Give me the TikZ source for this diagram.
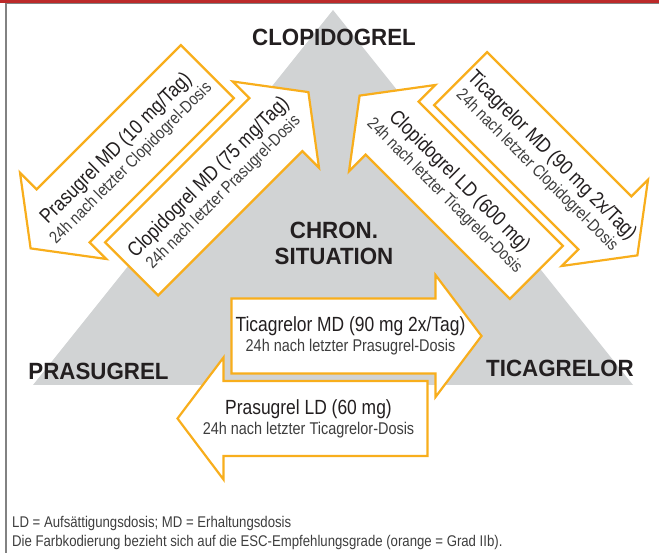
\documentclass[tikz,border=0pt]{standalone}
\usepackage{fontspec}
\setmainfont{Liberation Sans}[FakeStretch=0.85]
\newfontfamily\labelfont{Liberation Sans}[FakeStretch=0.95]
\usepackage{xcolor}

\definecolor{triangray}{RGB}{209,211,212}
\definecolor{escorange}{RGB}{248,174,28}
\definecolor{bandred}{RGB}{188,42,42}
\definecolor{framegray}{RGB}{130,130,130}
\definecolor{inkdark}{RGB}{35,31,32}
\definecolor{inkgray}{RGB}{62,62,62}

\newcommand{\dosesub}{\fontsize{17}{20}\selectfont\color{inkgray}}

\tikzset{
  dosearrow/.style={draw=escorange, fill=white, line width=2.2pt, line join=miter},
  dosetext/.style={align=center, inner sep=0pt, text=inkdark, font=\fontsize{20.5}{20}\selectfont},
  druglabel/.style={inner sep=0pt, text=inkdark, font=\labelfont\bfseries\fontsize{23.5}{26}\selectfont},
  footnote/.style={anchor=base west, inner sep=0pt, text=inkgray, font=\fontsize{15.5}{17.5}\selectfont}
}

\begin{document}
\begin{tikzpicture}[x=1pt, y=-1pt]
  \useasboundingbox (0,0) rectangle (659,553);
  % frame
  \fill[bandred] (0,0) rectangle (659,3);
  \draw[framegray, line width=1.2pt] (6,553) -- (6,3.6) -- (659,3.6);
  % triangle
  \fill[triangray] (333,10) -- (633,385) -- (33,385) -- cycle;

  \node[druglabel, anchor=base] (clopi) at (334,46) {CLOPIDOGREL};
  \node[druglabel, anchor=base] (prasu) at (98.5,380) {PRASUGREL};
  \node[druglabel, anchor=base] (tica) at (560,377) {TICAGRELOR};
  \node[druglabel, align=center] (chron) at (334,243.5) {CHRON.\\SITUATION};

  % clopidogrel -> prasugrel
  \begin{scope}[shift={(119,160)}, rotate=45, transform shape]
    \draw[dosearrow] (125,-37.5) -- (-79,-37.5) -- (-79,-61) -- (-125,0) -- (-79,61) -- (-79,37.5) -- (125,37.5) -- cycle;
    \node[dosetext] (prasMD) at (6,0) {Prasugrel MD (10 mg/Tag)\\{\dosesub 24h nach letzter Clopidogrel-Dosis}};
  \end{scope}
  % prasugrel -> clopidogrel
  \begin{scope}[shift={(220,180.5)}, rotate=45, transform shape]
    \draw[dosearrow] (-125,-37.5) -- (79,-37.5) -- (79,-61) -- (125,0) -- (79,61) -- (79,37.5) -- (-125,37.5) -- cycle;
    \node[dosetext] (clopiMD) at (-6,0) {Clopidogrel MD (75 mg/Tag)\\{\dosesub 24h nach letzter Prasugrel-Dosis}};
  \end{scope}
  % ticagrelor -> clopidogrel
  \begin{scope}[shift={(448,184)}, rotate=-45, transform shape]
    \draw[dosearrow] (125,-37.5) -- (-79,-37.5) -- (-79,-61) -- (-125,0) -- (-79,61) -- (-79,37.5) -- (125,37.5) -- cycle;
    \node[dosetext] (clopiLD) at (6,0) {Clopidogrel LD (600 mg)\\{\dosesub 24h nach letzter Ticagrelor-Dosis}};
  \end{scope}
  % clopidogrel -> ticagrelor
  \begin{scope}[shift={(549,167)}, rotate=-45, transform shape]
    \draw[dosearrow] (-125,-37.5) -- (79,-37.5) -- (79,-61) -- (125,0) -- (79,61) -- (79,37.5) -- (-125,37.5) -- cycle;
    \node[dosetext] (ticaMDc) at (-6,0) {Ticagrelor MD (90 mg 2x/Tag)\\{\dosesub 24h nach letzter Clopidogrel-Dosis}};
  \end{scope}
  % prasugrel -> ticagrelor
  \begin{scope}[shift={(356.5,336)}]
    \draw[dosearrow] (-125,-37.5) -- (79,-37.5) -- (79,-61) -- (125,0) -- (79,61) -- (79,37.5) -- (-125,37.5) -- cycle;
    \node[dosetext] (ticaMDp) at (-6,0) {Ticagrelor MD (90 mg 2x/Tag)\\{\dosesub 24h nach letzter Prasugrel-Dosis}};
  \end{scope}
  % ticagrelor -> prasugrel
  \begin{scope}[shift={(302.5,418.5)}]
    \draw[dosearrow] (125,-37.5) -- (-79,-37.5) -- (-79,-61) -- (-125,0) -- (-79,61) -- (-79,37.5) -- (125,37.5) -- cycle;
    \node[dosetext] (prasLD) at (6,0) {Prasugrel LD (60 mg)\\{\dosesub 24h nach letzter Ticagrelor-Dosis}};
  \end{scope}

  \node[footnote] (abbrev) at (12,527) {LD = Aufsättigungsdosis; MD = Erhaltungsdosis};
  \node[footnote] (colorkey) at (12,546.5) {Die Farbkodierung bezieht sich auf die ESC-Empfehlungsgrade (orange = Grad IIb).};
\end{tikzpicture}
\end{document}
